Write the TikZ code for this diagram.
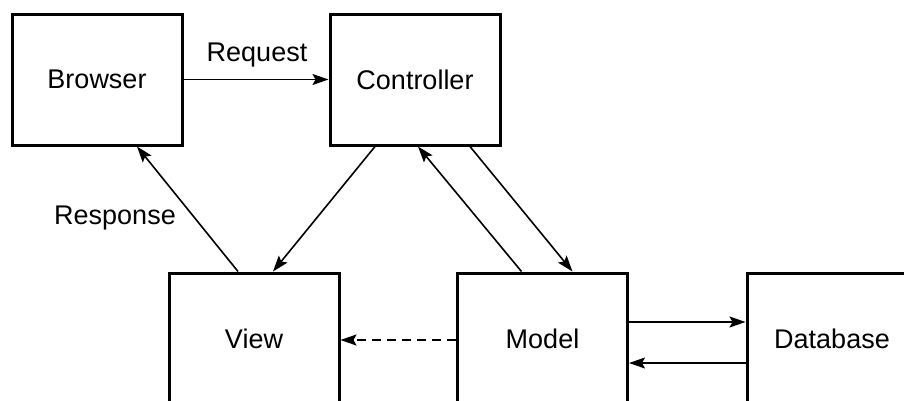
\documentclass[tikz,border=0pt]{standalone}
\usepackage{fontspec}
\setmainfont{Liberation Sans}
\usetikzlibrary{arrows.meta}
\begin{document}
\begin{tikzpicture}[x=1pt,y=-1pt,
  box/.style={draw=black, line width=3pt, minimum width=170pt, minimum height=131pt, inner sep=0pt, font=\fontsize{27}{32}\selectfont},
  conn/.style={line width=1.6pt, -{Stealth[length=16pt,width=11pt,inset=3pt]}},
  lbl/.style={font=\fontsize{27}{32}\selectfont, inner sep=0pt}]
\useasboundingbox (0,0) rectangle (904,400);
\clip (0,0) rectangle (904,400);
\node[box] (browser) at (97,79.5) {Browser};
\node[box] (controller) at (415,79.5) {Controller};
\node[box] (view) at (254,338.5) {View};
\node[box] (model) at (542.5,338.5) {Model};
\node[box] (db) at (832,338.5) {Database};
\draw[conn] (browser.east) -- (controller.west);
\node[lbl] (req) at (257,55) {Request};
\draw[conn] ([xshift=-16pt]view.north) -- ([xshift=40pt]browser.south);
\node[lbl] (resp) at (115,218) {Response};
\draw[conn] ([xshift=-40pt]controller.south) -- ([xshift=19pt]view.north);
\draw[conn] ([xshift=-21pt]model.north) -- ([xshift=3pt]controller.south);
\draw[conn] ([xshift=55pt]controller.south) -- ([xshift=30pt]model.north);
\draw[conn, dash pattern=on 9pt off 6pt] ([yshift=-1.5pt]model.west) -- ([yshift=-1.5pt]view.east);
\draw[conn] ([yshift=16.5pt]model.east) -- ([yshift=16.5pt]db.west);
\draw[conn] ([yshift=-24.5pt]db.west) -- ([yshift=-24.5pt]model.east);
\end{tikzpicture}
\end{document}
